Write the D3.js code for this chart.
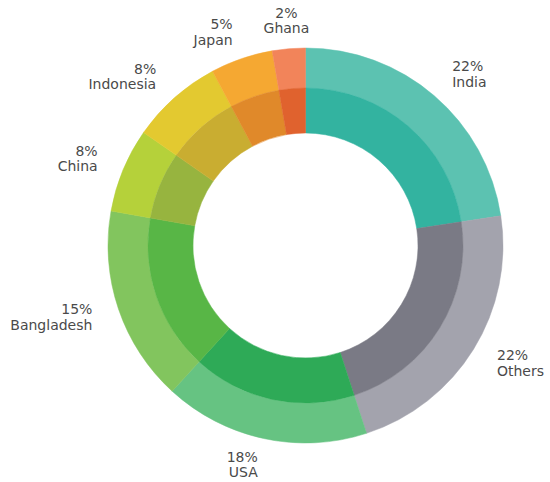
<!DOCTYPE html>
<html>
<head>
<meta charset="utf-8">
<script src="https://cdn.jsdelivr.net/npm/d3@7"></script>
<style>
  html, body { margin: 0; padding: 0; background: #fff; }
  svg { display: block; }
  text { font-family: "DejaVu Sans", sans-serif; font-size: 14px; fill: #4a4a4a; }
</style>
</head>
<body>
<svg id="chart" width="550" height="482"></svg>
<script>
const categories = ["India", "Others", "USA", "Bangladesh", "China", "Indonesia", "Japan", "Ghana"];
const values = [22.6, 22.4, 16.8, 16.0, 6.9, 7.5, 5.1, 2.7];
const pctLabels = ["22%", "22%", "18%", "15%", "8%", "8%", "5%", "2%"];
const outerColors = ["#5cc2b1", "#a3a3ad", "#66c382", "#82c55e", "#b5d13a", "#e3c930", "#f5a832", "#f2845a"];
const innerColors = ["#33b3a0", "#7a7a85", "#2eaa57", "#58b646", "#97b43f", "#c9ad31", "#e0892a", "#e0622e"];

const cx = 305.5, cy = 245.5;
const rOuter = 197.5, rMid = 157.5, rInner = 112.5, rLabel = 225;

const svg = d3.select("#chart");
const g = svg.append("g").attr("transform", `translate(${cx},${cy})`);

const data = categories.map((c, i) => ({ name: c, value: values[i], pct: pctLabels[i], i }));
const pie = d3.pie().value(d => d.value).sort(null);
const arcs = pie(data);

const outerArc = d3.arc().innerRadius(rMid).outerRadius(rOuter);
const innerArc = d3.arc().innerRadius(rInner).outerRadius(rMid);

g.selectAll("path.outer").data(arcs).join("path")
  .attr("class", "outer")
  .attr("d", outerArc)
  .attr("fill", d => outerColors[d.data.i])
  .attr("stroke", d => outerColors[d.data.i])
  .attr("stroke-width", 0.5);

g.selectAll("path.inner").data(arcs).join("path")
  .attr("class", "inner")
  .attr("d", innerArc)
  .attr("fill", d => innerColors[d.data.i])
  .attr("stroke", d => innerColors[d.data.i])
  .attr("stroke-width", 0.5);

const labels = g.selectAll("text.lbl").data(arcs).join("text")
  .attr("class", "lbl")
  .each(function(d) {
    const a = (d.startAngle + d.endAngle) / 2;
    const x = rLabel * Math.sin(a);
    const y = -rLabel * Math.cos(a);
    const anchor = Math.abs(x) < 30 ? "middle" : (x > 0 ? "start" : "end");
    const t = d3.select(this).attr("text-anchor", anchor);
    t.append("tspan").attr("x", x).attr("y", y - 3.5).text(d.data.pct);
    t.append("tspan").attr("x", x).attr("y", y + 12).text(d.data.name);
  });
</script>
</body>
</html>
